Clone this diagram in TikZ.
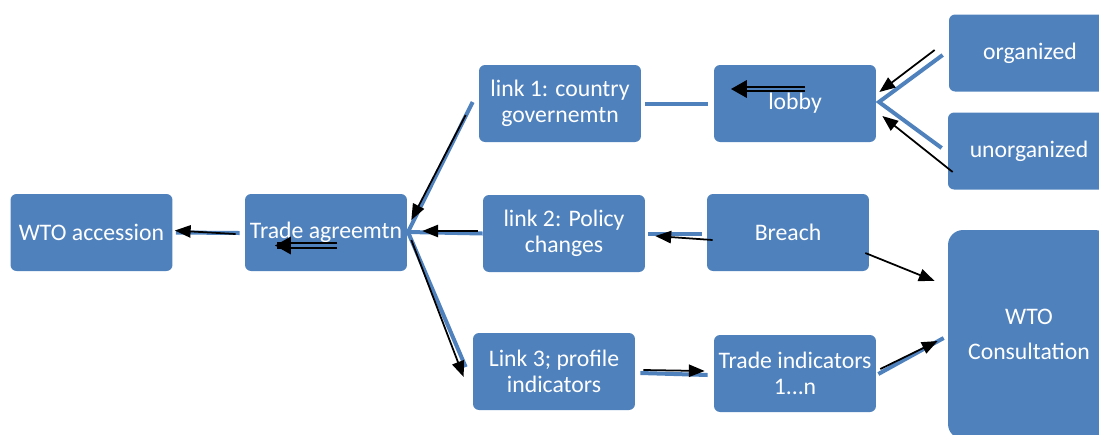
\documentclass[tikz,border=0pt]{standalone}
\usepackage{fontspec}
\setmainfont{Carlito}
\usepackage{xcolor}
\usepackage{tikz}
\usetikzlibrary{shapes,arrows.meta,positioning}

\definecolor{boxblue}{RGB}{79,129,189}

\tikzset{
  box/.style={rectangle, rounded corners=0.12cm, fill=boxblue, text=white,
    minimum width=3.24cm, minimum height=1.54cm, inner xsep=1pt, align=center,
    font=\fontsize{13.5}{14.5}\selectfont},
  bigbox/.style={box, rounded corners=0.3cm, minimum height=4.18cm,
    font=\fontsize{13.5}{20}\selectfont},
  wire/.style={boxblue, line width=0.08cm},
  link/.style={black, line width=1pt, -{Triangle[length=9pt,width=7pt]}},
  twin/.style={black, line width=0.9pt},
  twintip/.style={black, line width=0.9pt, -{Triangle[length=9pt,width=10pt]}},
}

\begin{document}
\begin{tikzpicture}[x=0.02cm, y=-0.02cm]
\clip (0,0) rectangle (1099,434);

% boxes
\node[box] (acc) at (91.5,232.5) {WTO accession};
\node[box] (trade) at (326,232.5) {Trade agreemtn};
\node[box] (link1) at (560,103.5) {link 1: country\\governemtn};
\node[box] (link2) at (564,233.5) {link 2: Policy\\changes};
\node[box] (link3) at (554,371.5) {Link 3; profile\\indicators};
\node[box] (lobby) at (795,103.5) {lobby};
\node[box] (breach) at (788,232.5) {Breach};
\node[box] (ind) at (795,373.5) {Trade indicators\\1...n};
\node[box] (org) at (1030,53) {organized};
\node[box] (unorg) at (1029,151) {unorganized};
\node[bigbox] (wto) at (1029,334.5) {WTO\\Consultation};

\coordinate (jn) at (408,232);
\coordinate (jl) at (879,102);

% blue lines
\draw[wire] ([shift={(-5,0.5)}]trade.west) -- ([shift={(3,0)}]acc.east);
\draw[wire] ([shift={(-6,-1.5)}]link1.west) -- (jn) -- ([shift={(-7,-4.5)}]link3.west);
\draw[wire] (link2.west) -- (jn);
\draw[wire] ([shift={(4,0)}]link1.east) -- ([shift={(-6,0)}]lobby.west);
\draw[wire] ([shift={(-6,2)}]org.west) -- (jl) -- ([shift={(-6,-3)}]unorg.west);
\draw[wire] ([shift={(3,0.5)}]link2.east) -- ([shift={(-5,1.5)}]breach.west);
\draw[wire] ([shift={(5,1.5)}]link3.east) -- ([shift={(-6,1.5)}]ind.west);
\draw[wire] ([shift={(2,0.5)}]ind.east) -- ([shift={(-4,3.5)}]wto.west);

% black arrows
\draw[link] ([shift={(-9,1.5)}]trade.west) -- ([shift={(2,-2)}]acc.east);
\draw[link] ([shift={(-13,11.5)}]link1.west) -- ([shift={(4,-12.5)}]trade.east);
\draw[link] ([shift={(-5,-2.5)}]link2.west) -- ([shift={(15,-1.5)}]trade.east);
\draw[link] ([shift={(4,7.5)}]trade.east) -- ([shift={(-9,5.5)}]link3.west);
\draw[link] ([shift={(-14,-3)}]org.west) -- ([shift={(3,-11.5)}]lobby.east);
\draw[link] ([shift={(5,21)}]unorg.west) -- ([shift={(6,12.5)}]lobby.east);
\draw[link] ([shift={(6,7.5)}]breach.west) -- ([shift={(10,2.5)}]link2.east);
\draw[link] ([shift={(-4,20.5)}]breach.east) -- ([shift={(-13,-53.5)}]wto.west);
\draw[link] ([shift={(8,-1.5)}]link3.east) -- ([shift={(-9,-2.5)}]ind.west);
\draw[link] ([shift={(4,-4.5)}]ind.east) -- ([shift={(-10,6.5)}]wto.west);

% double arrows inside boxes
\draw[twin] ([shift={(11,10.5)}]trade.center) -- ++(-60,0);
\draw[twin] ([shift={(11,15.5)}]trade.center) -- ++(-60,0);
\draw[twintip] ([shift={(-36,13)}]trade.center) -- ++(-15,0);
\draw[twin] ([shift={(10,-16.5)}]lobby.center) -- ++(-60,0);
\draw[twin] ([shift={(10,-12.5)}]lobby.center) -- ++(-60,0);
\draw[twintip] ([shift={(-49,-14.5)}]lobby.center) -- ++(-15,0);
\end{tikzpicture}
\end{document}
